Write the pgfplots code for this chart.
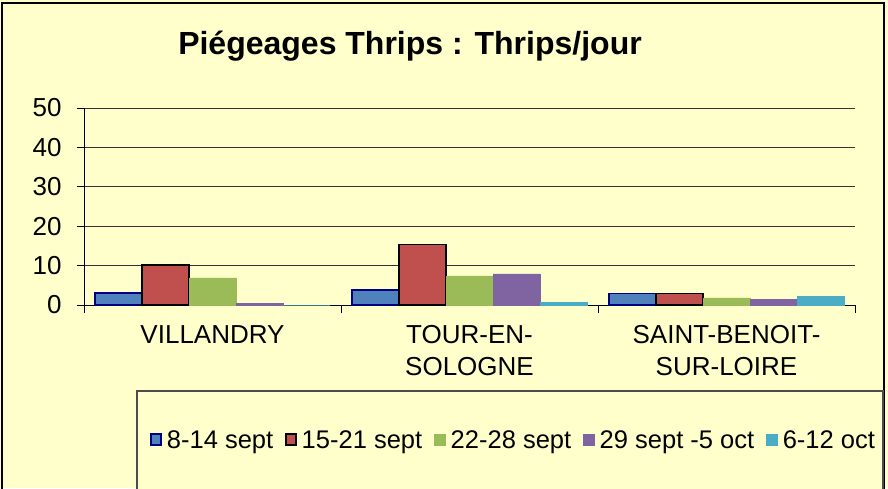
\documentclass[border=0pt]{standalone}
\usepackage{pgfplots}
\pgfplotsset{compat=1.18}
\usepackage{fontspec}
\setmainfont{Liberation Sans}
\definecolor{bgY}{HTML}{FFFFCC}
\definecolor{cBlue}{HTML}{4F81BD}
\definecolor{cRed}{HTML}{C0504D}
\definecolor{cGreen}{HTML}{9BBB59}
\definecolor{cPurple}{HTML}{8064A2}
\definecolor{cCyan}{HTML}{4BACC6}
\definecolor{cNavy}{HTML}{000080}
\begin{document}
\begin{tikzpicture}[x=1pt,y=1pt]
\useasboundingbox (0,0) rectangle (888,488);
\fill[bgY] (0,0) rectangle (888,488);
% outer frame
\draw[black, line width=1.8pt] (2,-5) -- (2,485) -- (884,485) -- (884,-5);
% legend box
\draw[black!70, line width=1.3pt, fill=bgY] (137,-5) rectangle (883,97);
% title
\node[font=\bfseries\fontsize{32}{38}\selectfont, anchor=base] at (410,433) {Piégeages Thrips : Thrips/jour};
\begin{axis}[
  at={(84pt,183pt)}, anchor=south west,
  scale only axis, width=771pt, height=197pt,
  ybar=0pt, bar width=47pt,
  xmin=-0.5, xmax=2.5, ymin=0, ymax=50,
  xtick={0,1,2},
  xticklabels={VILLANDRY, {TOUR-EN-\\SOLOGNE}, {SAINT-BENOIT-\\SUR-LOIRE}},
  minor xtick={-0.5,0.5,1.5,2.5},
  ytick={0,10,20,30,40,50},
  axis x line*=bottom, axis y line*=left,
  axis line style={black, line width=1pt},
  tick align=outside,
  major tick length=7pt, minor tick length=8pt,
  major x tick style={draw=none},
  minor x tick style={black, line width=1pt},
  major y tick style={black, line width=1pt},
  ymajorgrids, grid style={black!80, line width=0.9pt},
  /pgf/number format/assume math mode=true,
  yticklabel style={font=\fontsize{26}{30}\selectfont, xshift=-12pt},
  xticklabel style={font=\fontsize{26}{32}\selectfont, align=center, yshift=-10pt},
  legend columns=5,
  legend style={draw=none, fill=none, at={(0.082,-0.685)}, anchor=west,
    font=\fontsize{25.5}{30}\selectfont,
    /tikz/every odd column/.append style={column sep=3pt},
    /tikz/every even column/.append style={column sep=10pt}},
  axis background/.style={fill=none},
]
\addplot[fill=cBlue, draw=cNavy, line width=1.5pt,
  legend image code/.code={\draw[fill=cBlue, draw=cNavy, line width=1.5pt] (0pt,-5pt) rectangle (10pt,6pt);}]
  coordinates {(0,3.0) (1,3.8) (2,2.9)};
\addplot[fill=cRed, draw=black, line width=1.5pt,
  legend image code/.code={\draw[fill=cRed, draw=black, line width=1.5pt] (0pt,-5pt) rectangle (10pt,6pt);}]
  coordinates {(0,10.1) (1,15.3) (2,2.9)};
\addplot[fill=cGreen, draw=cGreen, line width=0.5pt,
  legend image code/.code={\fill[cGreen] (0pt,-5pt) rectangle (11pt,6pt);}]
  coordinates {(0,6.9) (1,7.4) (2,1.8)};
\addplot[fill=cPurple, draw=cPurple, line width=0.5pt,
  legend image code/.code={\fill[cPurple] (0pt,-5pt) rectangle (11pt,6pt);}]
  coordinates {(0,0.5) (1,7.9) (2,1.5)};
\addplot[fill=cCyan, draw=cCyan, line width=0.5pt,
  legend image code/.code={\fill[cCyan] (0pt,-5pt) rectangle (11pt,6pt);}]
  coordinates {(0,0) (1,0.6) (2,2.2)};
\legend{8-14 sept, 15-21 sept, 22-28 sept, 29 sept -5 oct, 6-12 oct}
\end{axis}
\end{tikzpicture}
\end{document}
